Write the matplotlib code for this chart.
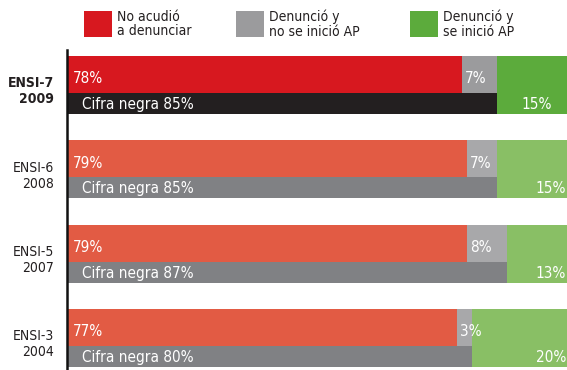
import matplotlib
matplotlib.use("Agg")
import matplotlib.pyplot as plt
from matplotlib.patches import Rectangle

# data
surveys = ["ENSI-7", "ENSI-6", "ENSI-5", "ENSI-3"]
years = ["2009", "2008", "2007", "2004"]
no_report = [78, 79, 79, 77]          # No acudió a denunciar
reported_no_ap = [7, 7, 8, 3]         # Denunció y no se inició AP
reported_ap = [15, 15, 13, 20]        # Denunció y se inició AP
dark_figure = [85, 85, 87, 80]        # Cifra negra

legend_labels = ["No acudió\na denunciar", "Denunció y\nno se inició AP", "Denunció y\nse inició AP"]

plt.rcParams['font.family'] = ["DejaVu Sans"]
plt.rcParams['font.stretch'] = "condensed"

# first row (2009) is highlighted, rest use lighter colours
RED = ["#d7181f", "#e25b44", "#e25b44", "#e25b44"]
GRAY = ["#9b9b9d", "#a8a8aa", "#a8a8aa", "#a8a8aa"]
CIFRA = ["#231f20", "#808184", "#808184", "#808184"]
GREEN = ["#5cab3c", "#89bf65", "#89bf65", "#89bf65"]

TOP_H = 0.44
BOT_H = 0.25

fig = plt.figure(figsize=(5.67, 3.70), dpi=100)
ax = fig.add_axes([67/567, 0, 500/567, 320/370])

for i in range(len(surveys)):
    # upper band: red + gray
    ax.barh(i, no_report[i], height=TOP_H, left=0, align='edge', color=RED[i], lw=0)
    ax.barh(i, dark_figure[i] - no_report[i], height=TOP_H, left=no_report[i], align='edge',
            color=GRAY[i], lw=0)
    # lower band: cifra negra
    ax.barh(i + TOP_H, dark_figure[i], height=BOT_H, left=0, align='edge', color=CIFRA[i], lw=0)
    # green across both bands
    ax.barh(i, 100 - dark_figure[i], height=TOP_H + BOT_H, left=dark_figure[i], align='edge',
            color=GREEN[i], lw=0)

    ax.text(1.2, i + 0.27, f"{no_report[i]}%", color="white", fontsize=11, va="center", ha="left")
    ax.text(no_report[i] + 0.6, i + 0.27, f"{reported_no_ap[i]}%", color="white", fontsize=11,
            va="center", ha="left")
    ax.text(3.0, i + 0.575, f"Cifra negra {dark_figure[i]}%", color="white",
            fontsize=11, va="center", ha="left")
    if i == 0:
        ax.text((dark_figure[i] + 100) / 2 + 0.4, i + 0.575, f"{reported_ap[i]}%",
                color="white", fontsize=11, va="center", ha="center")
    else:
        ax.text(98.6, i + 0.575, f"{reported_ap[i]}%", color="white", fontsize=11,
                va="center", ha="right")

    weight = "bold" if i == 0 else "normal"
    ax.text(-2.6, i + 0.42, f"{surveys[i]}\n{years[i]}", fontsize=10, ha="right", va="center",
            fontweight=weight, color="#231f20", linespacing=1.2)

ax.set_xlim(0, 500 / 5.06)
ax.set_ylim(3.725, -0.071)
for s in ["top", "right", "bottom"]:
    ax.spines[s].set_visible(False)
ax.spines["left"].set_linewidth(1.8)
ax.spines["left"].set_color("#111111")
ax.set_xticks([])
ax.set_yticks([])

# legend drawn by hand at the top
leg_colors = ["#d7181f", "#9b9b9d", "#5cab3c"]
leg_x = [84, 236, 410]
for c, x, lab in zip(leg_colors, leg_x, legend_labels):
    fig.patches.append(Rectangle((x / 567, 1 - 37 / 370), 28 / 567, 26 / 370,
                                 transform=fig.transFigure, color=c, lw=0))
    fig.text((x + 33) / 567, 1 - 24 / 370, lab, fontsize=10, va="center", ha="left",
             color="#231f20", linespacing=1.05)

fig.savefig("out.png", dpi=100)
